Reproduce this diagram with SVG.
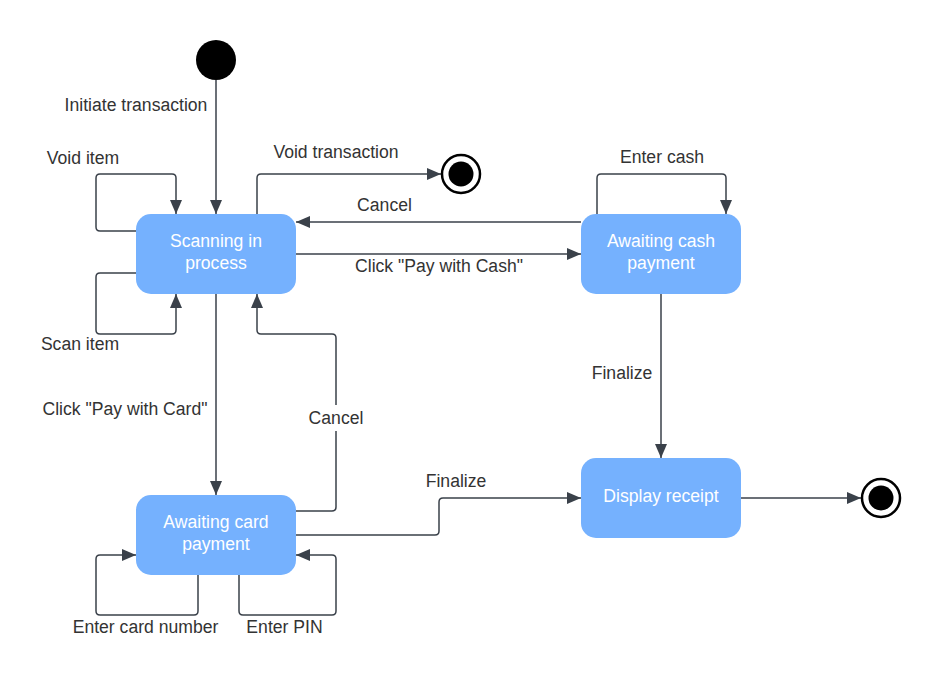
<svg xmlns="http://www.w3.org/2000/svg" width="941" height="681" viewBox="0 0 941 681">
<style>
.node{fill:#75b1fe;}
.nt{font-family:"Liberation Sans",Arial,sans-serif;font-size:17.6px;fill:#ffffff;text-anchor:middle;}
.lbl{font-family:"Liberation Sans",Arial,sans-serif;font-size:17.6px;fill:#333333;text-anchor:middle;}
.c{fill:none;stroke:#3a414a;stroke-width:1.5;marker-end:url(#ah);}
</style>
<defs>
<marker id="ah" viewBox="0 0 14 12" refX="14" refY="6" markerWidth="14" markerHeight="12" markerUnits="userSpaceOnUse" orient="auto">
<path d="M0,0 L14,6 L0,12 z" fill="#3a414a"/>
</marker>
</defs>
<rect width="941" height="681" fill="#ffffff"/>
<g id="connectors">
<path class="c" d="M216,80 V214"/>
<path class="c" d="M136,231 H100 Q96,231 96,227 V178 Q96,174 100,174 H172 Q176,174 176,178 V214"/>
<path class="c" d="M136,273 H100 Q96,273 96,277 V330 Q96,334 100,334 H172 Q176,334 176,330 V294"/>
<path class="c" d="M257,214 V178 Q257,174 261,174 H441"/>
<path class="c" d="M581,222 H296"/>
<path class="c" d="M296,254 H581"/>
<path class="c" d="M296,511 H332 Q336,511 336,507 V338 Q336,334 332,334 H261 Q257,334 257,330 V294"/>
<path class="c" d="M216,294 V495"/>
<path class="c" d="M296,535 H435 Q439,535 439,531 V502 Q439,498 443,498 H581"/>
<path class="c" d="M198,575 V611 Q198,615 194,615 H100 Q96,615 96,611 V559 Q96,555 100,555 H136"/>
<path class="c" d="M239,575 V611 Q239,615 243,615 H332 Q336,615 336,611 V559 Q336,555 332,555 H296"/>
<path class="c" d="M597,214 V178 Q597,174 601,174 H722 Q726,174 726,178 V214"/>
<path class="c" d="M661,294 V458"/>
<path class="c" d="M741,498 H861"/>
</g>
<g id="labels">
<text class="lbl" x="136" y="111">Initiate transaction</text>
<text class="lbl" x="83" y="164">Void item</text>
<text class="lbl" x="336" y="158">Void transaction</text>
<text class="lbl" x="384.5" y="211">Cancel</text>
<text class="lbl" x="439" y="272">Click "Pay with Cash"</text>
<text class="lbl" x="80" y="350">Scan item</text>
<text class="lbl" x="125" y="415">Click "Pay with Card"</text>
<rect x="306" y="405" width="60" height="26" fill="#ffffff"/>
<text class="lbl" x="336" y="424">Cancel</text>
<text class="lbl" x="456" y="487">Finalize</text>
<text class="lbl" x="145.5" y="633">Enter card number</text>
<text class="lbl" x="284.5" y="633">Enter PIN</text>
<text class="lbl" x="662" y="163">Enter cash</text>
<text class="lbl" x="622" y="379">Finalize</text>
</g>
<g id="initial"><circle cx="216" cy="60" r="20" fill="#000000"/></g>
<g id="final1"><circle cx="461" cy="174" r="19" fill="#ffffff" stroke="#000000" stroke-width="2.5"/><circle cx="461" cy="174" r="12.5" fill="#000000"/></g>
<g id="final2"><circle cx="881" cy="498" r="19" fill="#ffffff" stroke="#000000" stroke-width="2.5"/><circle cx="881" cy="498" r="12.5" fill="#000000"/></g>
<g id="scanning"><rect class="node" x="136" y="214" width="160" height="80" rx="15"/><text class="nt" x="216" y="247">Scanning in</text><text class="nt" x="216" y="268.5">process</text></g>
<g id="cash"><rect class="node" x="581" y="214" width="160" height="80" rx="15"/><text class="nt" x="661" y="247">Awaiting cash</text><text class="nt" x="661" y="268.5">payment</text></g>
<g id="card"><rect class="node" x="136" y="495" width="160" height="80" rx="15"/><text class="nt" x="216" y="528">Awaiting card</text><text class="nt" x="216" y="549.5">payment</text></g>
<g id="receipt"><rect class="node" x="581" y="458" width="160" height="80" rx="15"/><text class="nt" x="661" y="502">Display receipt</text></g>
</svg>
